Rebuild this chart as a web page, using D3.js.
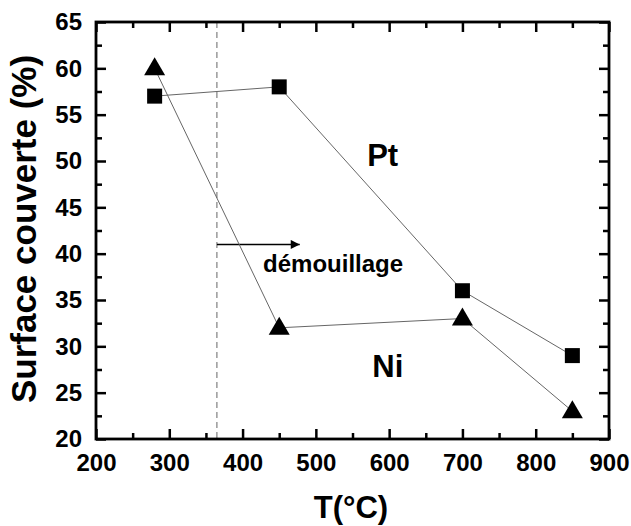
<!DOCTYPE html>
<html>
<head>
<meta charset="utf-8">
<script src="https://cdn.jsdelivr.net/npm/d3@7"></script>
<style>
  body { margin: 0; background: #fff; }
  svg { display: block; }
  text { font-family: "Liberation Sans", Arial, Helvetica, sans-serif; font-weight: bold; fill: #000; }
</style>
</head>
<body>
<svg id="chart" width="631" height="526"></svg>
<script>
// Annealing temperature (°C) and covered surface (%) for the two metals
const temperatures = [280, 450, 700, 850];
const ptCoverage = [57, 58, 36, 29];
const niCoverage = [60, 32, 33, 23];

// Axis ticks
const xTickValues = [200, 300, 400, 500, 600, 700, 800, 900];
const xMinorValues = [250, 350, 450, 550, 650, 750, 850];
const yTickValues = [20, 25, 30, 35, 40, 45, 50, 55, 60, 65];
const yMinorValues = [22.5, 27.5, 32.5, 37.5, 42.5, 47.5, 52.5, 57.5, 62.5];

// Dewetting onset marker and arrow
const dewettingOnset = 365;
const arrowEnd = 478;
const arrowLevel = 41;

// Text annotations (data coordinates)
const labelPt = { text: "Pt", x: 570, y: 49.5 };
const labelNi = { text: "Ni", x: 577, y: 26.7 };
const labelDewetting = { text: "démouillage", x: 428, y: 38 };

const svg = d3.select("#chart");
const plot = { left: 96, right: 609, top: 22, bottom: 439 };

const x = d3.scaleLinear().domain([200, 900]).range([plot.left, plot.right]);
const y = d3.scaleLinear().domain([20, 65]).range([plot.bottom, plot.top]);

// Vertical dashed line at dewetting onset
svg.append("line")
  .attr("x1", x(dewettingOnset)).attr("x2", x(dewettingOnset))
  .attr("y1", plot.top).attr("y2", plot.bottom)
  .attr("stroke", "#666").attr("stroke-width", 1)
  .attr("stroke-dasharray", "6,4");

// Arrow
svg.append("defs").append("marker")
  .attr("id", "head").attr("viewBox", "0 0 10 10")
  .attr("refX", 10).attr("refY", 5)
  .attr("markerWidth", 14).attr("markerHeight", 9)
  .attr("markerUnits", "userSpaceOnUse")
  .attr("orient", "auto")
  .append("path").attr("d", "M0,0 L10,5 L0,10 Z").attr("fill", "#000");

svg.append("line")
  .attr("x1", x(dewettingOnset)).attr("x2", x(arrowEnd))
  .attr("y1", y(arrowLevel)).attr("y2", y(arrowLevel))
  .attr("stroke", "#000").attr("stroke-width", 1.5)
  .attr("marker-end", "url(#head)");

// Connecting lines
const line = d3.line().x(d => x(d[0])).y(d => y(d[1]));
const ptData = temperatures.map((t, i) => [t, ptCoverage[i]]);
const niData = temperatures.map((t, i) => [t, niCoverage[i]]);

[ptData, niData].forEach(data => {
  svg.append("path").datum(data)
    .attr("d", line)
    .attr("fill", "none")
    .attr("stroke", "#666")
    .attr("stroke-width", 1);
});

// Square markers (Pt)
svg.selectAll("rect.pt").data(ptData).join("rect")
  .attr("class", "pt")
  .attr("x", d => x(d[0]) - 7.5).attr("y", d => y(d[1]) - 7.5)
  .attr("width", 15).attr("height", 15)
  .attr("fill", "#000");

// Triangle markers (Ni)
const triangle = "M0,-11 L10.5,7 L-10.5,7 Z";
svg.selectAll("path.ni").data(niData).join("path")
  .attr("class", "ni")
  .attr("transform", d => `translate(${x(d[0])},${y(d[1])})`)
  .attr("d", triangle)
  .attr("fill", "#000");

// Axes
const tickStyle = g => {
  g.select(".domain").remove();
  g.selectAll(".tick line").attr("stroke", "#000").attr("stroke-width", 2.5);
  g.selectAll(".tick text").style("font-size", "24px")
    .style("font-family", "'Liberation Sans', Arial, sans-serif").style("font-weight", "bold");
};

svg.append("g").attr("transform", `translate(0,${plot.bottom})`)
  .call(d3.axisBottom(x).tickValues(xTickValues).tickFormat(d3.format("d"))
    .tickSize(-10).tickPadding(15))
  .call(tickStyle);
svg.append("g").attr("transform", `translate(0,${plot.bottom})`)
  .call(d3.axisBottom(x).tickValues(xMinorValues).tickFormat("").tickSize(-6))
  .call(tickStyle);
svg.append("g").attr("transform", `translate(0,${plot.top})`)
  .call(d3.axisTop(x).tickValues(xTickValues).tickFormat("").tickSize(-10))
  .call(tickStyle);
svg.append("g").attr("transform", `translate(0,${plot.top})`)
  .call(d3.axisTop(x).tickValues(xMinorValues).tickFormat("").tickSize(-6))
  .call(tickStyle);

svg.append("g").attr("transform", `translate(${plot.left},0)`)
  .call(d3.axisLeft(y).tickValues(yTickValues).tickFormat(d3.format("d"))
    .tickSize(-10).tickPadding(14))
  .call(tickStyle);
svg.append("g").attr("transform", `translate(${plot.left},0)`)
  .call(d3.axisLeft(y).tickValues(yMinorValues).tickFormat("").tickSize(-6))
  .call(tickStyle);
svg.append("g").attr("transform", `translate(${plot.right},0)`)
  .call(d3.axisRight(y).tickValues(yTickValues).tickFormat("").tickSize(-10))
  .call(tickStyle);
svg.append("g").attr("transform", `translate(${plot.right},0)`)
  .call(d3.axisRight(y).tickValues(yMinorValues).tickFormat("").tickSize(-6))
  .call(tickStyle);

// Frame
svg.append("rect")
  .attr("x", plot.left).attr("y", plot.top)
  .attr("width", plot.right - plot.left).attr("height", plot.bottom - plot.top)
  .attr("fill", "none").attr("stroke", "#000").attr("stroke-width", 2.8);

// Annotations
svg.append("text").attr("x", x(labelPt.x)).attr("y", y(labelPt.y))
  .style("font-size", "31px").text(labelPt.text);
svg.append("text").attr("x", x(labelNi.x)).attr("y", y(labelNi.y))
  .style("font-size", "31px").text(labelNi.text);
svg.append("text").attr("x", x(labelDewetting.x)).attr("y", y(labelDewetting.y))
  .style("font-size", "24px").text(labelDewetting.text);

// Axis titles
svg.append("text")
  .attr("x", 351).attr("y", 518)
  .attr("text-anchor", "middle")
  .style("font-size", "31px").text("T(°C)");
svg.append("text")
  .attr("transform", "translate(36,229) rotate(-90)")
  .attr("text-anchor", "middle")
  .style("font-size", "35px").text("Surface couverte (%)");
</script>
</body>
</html>
